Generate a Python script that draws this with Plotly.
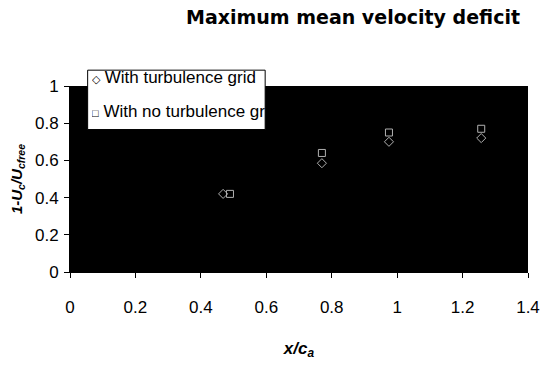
import plotly.graph_objects as go

# Maximum mean velocity deficit along the wake
x_grid = [0.468, 0.77, 0.975, 1.257]
y_grid = [0.42, 0.585, 0.70, 0.72]
x_nogrid = [0.489, 0.77, 0.975, 1.257]
y_nogrid = [0.42, 0.64, 0.75, 0.77]

x_ticks = [0, 0.2, 0.4, 0.6, 0.8, 1.0, 1.2, 1.4]
x_labels = ["0", "0.2", "0.4", "0.6", "0.8", "1", "1.2", "1.4"]
y_ticks = [0, 0.2, 0.4, 0.6, 0.8, 1.0]
y_labels = ["0", "0.2", "0.4", "0.6", "0.8", "1"]

label_grid = "With turbulence grid"
label_nogrid = "With no turbulence grid"

FONT = "Liberation Sans, Arial, sans-serif"

fig = go.Figure()
fig.add_trace(go.Scatter(
    x=x_grid, y=y_grid, mode="markers", name=label_grid, showlegend=False,
    marker=dict(symbol="diamond-open", size=7, color="#b0b0b0", line=dict(width=1)),
))
fig.add_trace(go.Scatter(
    x=x_nogrid, y=y_nogrid, mode="markers", name=label_nogrid, showlegend=False,
    marker=dict(symbol="square-open", size=7, color="#b0b0b0", line=dict(width=1)),
))

# plot area spans x: 70..537 px, y: 86..274 px
L, R, T, B = 70, 15, 86, 92
W, H = 552, 366
pw, ph = W - L - R, H - T - B


def px(xp):
    return (xp - L) / pw


def py(yp):
    return (H - B - yp) / ph


# legend box (entries are clipped at its right edge)
fig.add_shape(type="rect", xref="paper", yref="paper",
              x0=px(88), x1=px(269), y0=py(130), y1=py(70),
              fillcolor="white", line=dict(color="black", width=1), layer="above")

sym = '<span style="font-size:11px">{}</span>'
for text, ypix, s in [(label_grid, 77, "\u25C7"), (label_nogrid, 112, "\u25A1")]:
    fig.add_annotation(
        xref="paper", yref="paper", x=px(91), y=py(ypix), xanchor="left", yanchor="middle",
        text=sym.format(s) + " " + text, showarrow=False, align="left",
        width=176, borderpad=0,
        font=dict(family=FONT, size=17, color="black"),
    )

fig.update_layout(
    width=W, height=H,
    margin=dict(l=L, r=R, t=T, b=B),
    paper_bgcolor="white", plot_bgcolor="black",
    title=dict(
        text="<b>Maximum mean velocity deficit</b>",
        x=353 / W, xanchor="center", y=1 - 17 / H, yanchor="middle",
        font=dict(family="DejaVu Sans, sans-serif", size=19, color="black"),
    ),
    font=dict(family=FONT, size=17, color="black"),
)
fig.update_xaxes(
    range=[0, 1.4], tickvals=x_ticks, ticktext=x_labels,
    showgrid=False, zeroline=False, showline=True, linecolor="black",
    ticks="outside", ticklen=5, tickcolor="black", ticklabelstandoff=15,
    title=dict(text="<b><i>x/c<sub>a</sub></i></b>", standoff=25,
               font=dict(family=FONT, size=17)),
)
fig.update_yaxes(
    range=[0, 1], tickvals=y_ticks, ticktext=y_labels,
    showgrid=False, zeroline=False, showline=True, linecolor="black",
    ticks="outside", ticklen=5, tickcolor="black", ticklabelstandoff=2,
    title=dict(text="<b><i>1-U<sub>c</sub>/U<sub>cfree</sub></i></b>", standoff=8,
               font=dict(family=FONT, size=15)),
)

fig.write_html("out.html")
